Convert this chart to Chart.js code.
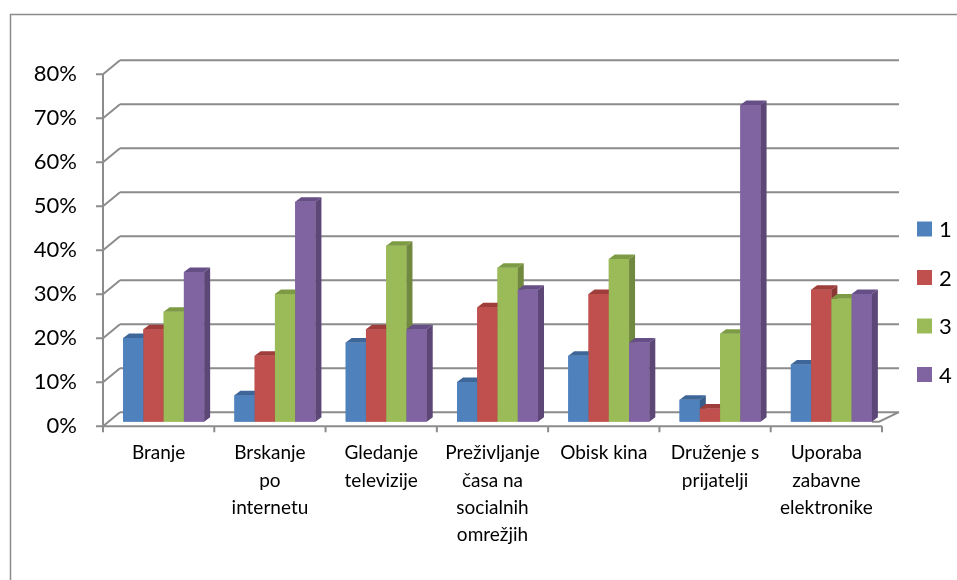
<!DOCTYPE html>
<html><head><meta charset="utf-8">
<script src="https://cdn.jsdelivr.net/npm/chart.js@4.4.1/dist/chart.umd.min.js"></script>
<style>html,body{margin:0;padding:0;background:#fff}#wrap{width:957px;height:580px;position:relative}canvas{display:block}</style>
</head><body><div id="wrap"><canvas id="c" width="957" height="580"></canvas></div>
<script>
const categories = [["Branje"],["Brskanje","po","internetu"],["Gledanje","televizije"],["Preživljanje","časa na","socialnih","omrežjih"],["Obisk kina"],["Druženje s","prijatelji"],["Uporaba","zabavne","elektronike"]];
const seriesNames = ["1","2","3","4"];
const series1 = [19,6,18,9,15,5,13];
const series2 = [21,15,21,26,29,3,30];
const series3 = [25,29,40,35,37,20,28];
const series4 = [34,50,21,30,18,72,29];
const yTicks = [0,10,20,30,40,50,60,70,80];

const colors = ['#4F81BD','#C0504D','#9BBB59','#8064A2'];
const topColors = ['#3E6699','#9E3D3A','#7D9B45','#664F86'];
const sideColors = ['#385D8A','#8C3836','#71893F','#5C4776'];
const seriesData = [series1, series2, series3, series4];

const FONT = 'Lato';
const GRID = '#8c8c8c';
const DX = 6, DY = -4.5; // bar depth

const threeD = {
  id: 'threeD',
  beforeDraw(chart) {
    const ctx = chart.ctx;
    ctx.save();
    ctx.strokeStyle = '#8c8c8c';
    ctx.lineWidth = 1.5;
    ctx.beginPath();
    ctx.moveTo(10.5, 580); ctx.lineTo(10.5, 14.5); ctx.lineTo(957, 14.5);
    ctx.stroke();
    ctx.restore();
  },
  beforeDatasetsDraw(chart) {
    const ctx = chart.ctx, y = chart.scales.y, x = chart.scales.x, ca = chart.chartArea;
    const FX = ca.left - 5, BX = FX + 17, BR = ca.right + 12;
    ctx.save();
    ctx.strokeStyle = GRID;
    ctx.lineWidth = 2;
    ctx.lineCap = 'butt';
    ctx.beginPath();
    for (const v of yTicks) {
      const yb = y.getPixelForValue(v);
      const yf = yb + 4.5, yk = yb - 9.5;
      ctx.moveTo(FX - 7, yf); ctx.lineTo(FX, yf);
      ctx.moveTo(FX, yf); ctx.lineTo(BX, yk);
      ctx.moveTo(BX, yk); ctx.lineTo(BR, yk);
    }
    const yf0 = y.getPixelForValue(0) + 4.5, yf80 = y.getPixelForValue(80) + 4.5;
    ctx.moveTo(FX, yf80); ctx.lineTo(FX, yf0 + 1);
    const xEnd = x.getPixelForValue(categories.length - 0.5) - 5;
    ctx.moveTo(FX - 7, yf0); ctx.lineTo(xEnd, yf0);
    for (let i = 0; i <= categories.length; i++) {
      const bx = x.getPixelForValue(i - 0.5) - 5;
      ctx.moveTo(bx, yf0); ctx.lineTo(bx, yf0 + 6);
    }
    const yb0 = y.getPixelForValue(0);
    ctx.moveTo(xEnd - 10, yb0); ctx.lineTo(xEnd - 3, yb0); ctx.lineTo(BR, yb0 - 9.5);
    ctx.stroke();
    ctx.restore();
  },
  afterDatasetsDraw(chart) {
    const ctx = chart.ctx;
    ctx.save();
    for (let j = 0; j < categories.length; j++) {
      for (let i = 0; i < seriesData.length; i++) {
        const el = chart.getDatasetMeta(i).data[j];
        const p = el.getProps(['x', 'y', 'base', 'width'], true);
        const l = p.x - p.width / 2, r = p.x + p.width / 2, t = p.y, b = p.base;
        ctx.fillStyle = colors[i];
        ctx.fillRect(l, t, r - l, b - t);
        ctx.fillStyle = topColors[i];
        ctx.beginPath();
        ctx.moveTo(l, t); ctx.lineTo(l + DX, t + DY); ctx.lineTo(r + DX, t + DY); ctx.lineTo(r, t);
        ctx.closePath(); ctx.fill();
        ctx.fillStyle = sideColors[i];
        ctx.beginPath();
        ctx.moveTo(r, t); ctx.lineTo(r + DX, t + DY); ctx.lineTo(r + DX, b + DY); ctx.lineTo(r, b);
        ctx.closePath(); ctx.fill();
      }
    }
    ctx.restore();
  },
  afterDraw(chart) {
    const ctx = chart.ctx;
    ctx.save();
    ctx.font = '22px ' + FONT;
    ctx.textBaseline = 'middle';
    ctx.textAlign = 'left';
    for (let i = 0; i < seriesNames.length; i++) {
      const yc = 229 + i * 48.5;
      ctx.fillStyle = colors[i];
      ctx.fillRect(917, yc - 7.5, 15, 15);
      ctx.fillStyle = '#000';
      ctx.fillText(seriesNames[i], 939, yc + 1);
    }
    ctx.restore();
  }
};

new Chart(document.getElementById('c'), {
  type: 'bar',
  data: {
    labels: categories,
    datasets: seriesNames.map((n, i) => ({
      label: n, data: seriesData[i], backgroundColor: colors[i],
      barPercentage: 1, categoryPercentage: 0.728, borderWidth: 0
    }))
  },
  options: {
    responsive: false, animation: false, devicePixelRatio: 1,
    layout: { padding: { top: 69.7, right: 70, left: 0, bottom: 0 } },
    plugins: { legend: { display: false }, tooltip: { enabled: false } },
    scales: {
      x: {
        grid: { display: false, drawTicks: false }, border: { display: false },
        ticks: { font: { family: FONT, size: 19, lineHeight: 1.43 }, color: '#000', maxRotation: 0, minRotation: 0, autoSkip: false, padding: 18, labelOffset: -5 },
        afterFit(s) { s.height = 580 - 421.7; }
      },
      y: {
        min: 0, max: 80,
        grid: { display: false, drawTicks: false }, border: { display: false },
        ticks: { font: { family: FONT, size: 22 }, color: '#000', padding: 31, labelOffset: 4.5, callback: v => v + '%' },
        afterBuildTicks(s) { s.ticks = yTicks.map(v => ({ value: v })); },
        afterFit(s) { s.width = 108; }
      }
    }
  },
  plugins: [threeD]
});
</script></body></html>
